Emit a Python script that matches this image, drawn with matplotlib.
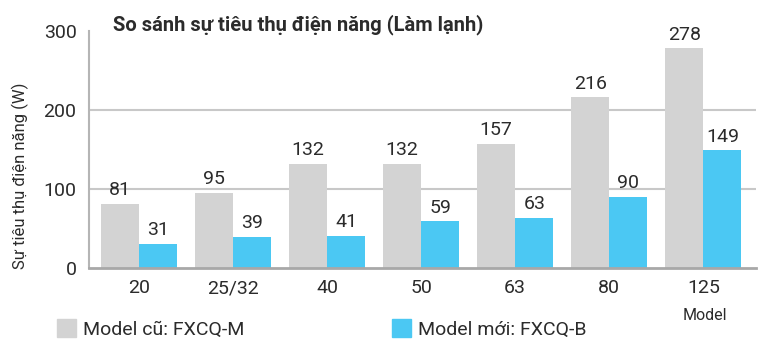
import matplotlib.pyplot as plt
from matplotlib.patches import Patch
import numpy as np

plt.rcParams['font.family'] = ['Roboto', 'DejaVu Sans']

models = ["20", "25/32", "40", "50", "63", "80", "125"]
old_watts = [81, 95, 132, 132, 157, 216, 278]   # Model cũ: FXCQ-M
new_watts = [31, 39, 41, 59, 63, 90, 149]       # Model mới: FXCQ-B
y_ticks = [0, 100, 200, 300]

gray = "#d3d3d3"
blue = "#4bc8f3"
ink = "#2b2b2b"

fig = plt.figure(figsize=(7.61, 3.39), dpi=100)
ax = fig.add_axes([0.117, 0.2094, 0.8764, 0.6992])

x = np.arange(len(models))
w = 0.405
bars_old = ax.bar(x - w / 2, old_watts, w, color=gray, zorder=2)
bars_new = ax.bar(x + w / 2, new_watts, w, color=blue, zorder=2)

# value labels sit just above each bar
for bars in (bars_old, bars_new):
    for b in bars:
        ax.text(b.get_x() + b.get_width() / 2, b.get_height() + 6,
                str(int(b.get_height())), ha="center", va="bottom",
                fontsize=14, color=ink, zorder=3)

ax.set_xlim(-0.53, 6.56)
ax.set_ylim(0, 300)
ax.set_yticks(y_ticks)
ax.set_yticklabels([str(t) for t in y_ticks], fontsize=14, color=ink)
ax.set_xticks(x)
ax.set_xticklabels(models, fontsize=14, color=ink)
ax.tick_params(length=0)
ax.tick_params(axis="y", pad=9)
ax.tick_params(axis="x", pad=8)

for v in (100, 200):
    ax.axhline(v, color="#c8c8c8", lw=1.5, zorder=1)

for side in ("top", "right"):
    ax.spines[side].set_visible(False)
ax.spines["left"].set_color("#b5b5b5")
ax.spines["left"].set_linewidth(1.5)
ax.spines["bottom"].set_color("#a8a8a8")
ax.spines["bottom"].set_linewidth(2)

ax.set_ylabel("Sự tiêu thụ điện năng (W)", fontsize=12, color=ink)
ax.yaxis.set_label_coords(-0.09, 0.388)

fig.text(113 / 761, 1 - 30 / 339, "So sánh sự tiêu thụ điện năng (Làm lạnh)",
         fontsize=14.5, fontweight="bold", color=ink, va="baseline")

fig.text(705 / 761, 1 - 315 / 339, "Model", fontsize=11.5, color=ink,
         ha="center", va="center")

handles = [Patch(color=gray, label="Model cũ: FXCQ-M"),
           Patch(color=blue, label="Model mới: FXCQ-B")]
fig.legend(handles=handles, loc="center left", bbox_to_anchor=(43 / 761, 1 - 329 / 339),
           ncol=2, frameon=False, fontsize=14, handlelength=1.0, handleheight=1.0,
           columnspacing=7.6, handletextpad=0.35, labelcolor=ink, borderpad=0.2)

fig.savefig("out.png", dpi=100)
